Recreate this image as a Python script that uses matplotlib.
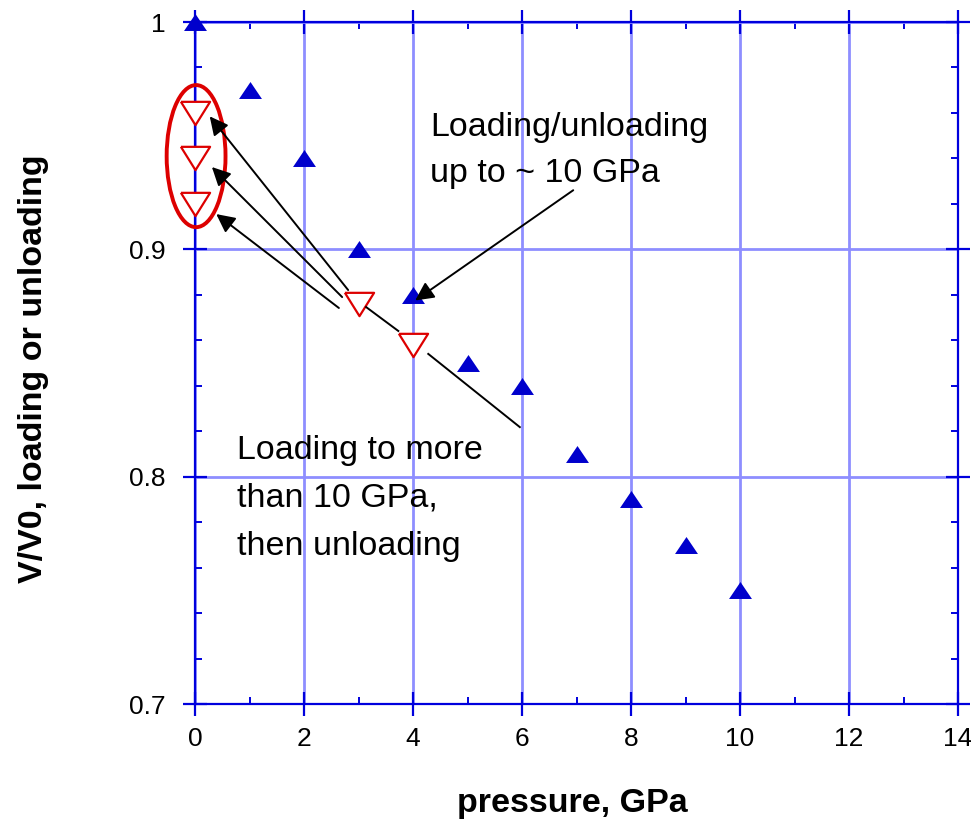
import numpy as np
import matplotlib
matplotlib.use('Agg')
import matplotlib.pyplot as plt
from matplotlib.patches import Ellipse
from matplotlib.ticker import MultipleLocator

plt.rcParams['font.family'] = ['Liberation Sans', 'DejaVu Sans']

# loading/unloading up to ~10 GPa
p_load = [0, 1, 2, 3, 4, 5, 6, 7, 8, 9, 10]
v_load = [1.0, 0.97, 0.94, 0.90, 0.88, 0.85, 0.84, 0.81, 0.79, 0.77, 0.75]

# loading to more than 10 GPa, then unloading
p_unload = [0, 0, 0, 3, 4]
v_unload = [0.96, 0.94, 0.92, 0.876, 0.858]

# annotation arrows (tail -> head), data coords
arrow_tails = [(2.81, 0.8821), (2.70, 0.879), (2.64, 0.8742), (6.94, 0.926)]
arrow_heads = [(0.27, 0.9585), (0.31, 0.9362), (0.39, 0.9155), (4.04, 0.8775)]
# plain connector lines
seg_starts = [(3.14, 0.8746), (4.28, 0.854)]
seg_ends = [(3.73, 0.8641), (5.96, 0.8218)]

blue = '#0000cc'
red = '#dd0000'
axblue = '#0000dd'
gridblue = '#8e8eff'

fig = plt.figure(figsize=(9.71, 8.21), dpi=100)
ax = fig.add_axes([195/971, 1-704/821, 763/971, 682/821])

tri_up = [(-1, -0.74), (1, -0.74), (0, 0.74), (-1, -0.74)]
tri_dn = [(-1, 0.8), (1, 0.8), (0, -0.8), (-1, 0.8)]

ax.plot(p_load, v_load, linestyle='none', marker=tri_up, markersize=16.5,
        color=blue, markeredgewidth=0, zorder=5, clip_on=False)
ax.plot(p_unload, v_unload, linestyle='none', marker=tri_dn, markersize=21,
        markerfacecolor='white', markeredgecolor=red, markeredgewidth=1.6,
        zorder=6, clip_on=False)

ell = Ellipse((0.02, 0.941), 1.08, 0.0625, fill=False, edgecolor=red,
              linewidth=2.8, zorder=7, clip_on=False)
ax.add_patch(ell)

for (x0, y0), (x1, y1) in zip(arrow_tails, arrow_heads):
    ax.annotate('', xy=(x1, y1), xytext=(x0, y0),
                arrowprops=dict(arrowstyle='-|>', color='black', lw=1.4,
                                mutation_scale=28, shrinkA=0, shrinkB=0),
                zorder=8)
for (x0, y0), (x1, y1) in zip(seg_starts, seg_ends):
    ax.plot([x0, x1], [y0, y1], color='black', lw=1.4, zorder=8)

txt = dict(fontsize=24.5, color='black', va='baseline', ha='left', zorder=9)
ax.text(4.31, 0.9498, 'Loading/unloading', **txt)
ax.text(4.31, 0.9296, 'up to ~ 10 GPa', **txt)
ax.text(0.77, 0.8078, 'Loading to more', **txt)
ax.text(0.77, 0.7867, 'than 10 GPa,', **txt)
ax.text(0.77, 0.7655, 'then unloading', **txt)

ax.set_xlim(0, 14)
ax.set_ylim(0.7, 1.0)
ax.xaxis.set_major_locator(MultipleLocator(2))
ax.xaxis.set_minor_locator(MultipleLocator(1))
ax.yaxis.set_major_locator(MultipleLocator(0.1))
ax.yaxis.set_minor_locator(MultipleLocator(0.02))
ax.set_yticks([0.7, 0.8, 0.9, 1.0])
ax.set_yticklabels(['0.7', '0.8', '0.9', '1'])

ax.grid(True, which='major', color=gridblue, linewidth=2.0, zorder=0)
ax.set_axisbelow(True)
for s in ax.spines.values():
    s.set_color(axblue)
    s.set_linewidth(1.6)

ax.tick_params(which='major', direction='inout', length=17, width=1.6,
               color=axblue, labelsize=19, top=True, right=True)
ax.tick_params(which='minor', direction='in', length=5, width=1.4,
               color=axblue, top=True, right=True)
ax.tick_params(axis='y', which='major', pad=13)
ax.tick_params(axis='x', which='major', pad=8)

fig.text(34/971, 1-369/821, 'V/V0, loading or unloading', rotation=90,
         fontsize=24.5, fontweight='bold', ha='center', va='center')
fig.text(572/971, 1-803/821, 'pressure, GPa',
         fontsize=24.5, fontweight='bold', ha='center', va='center')

fig.savefig('out.png', dpi=100)
